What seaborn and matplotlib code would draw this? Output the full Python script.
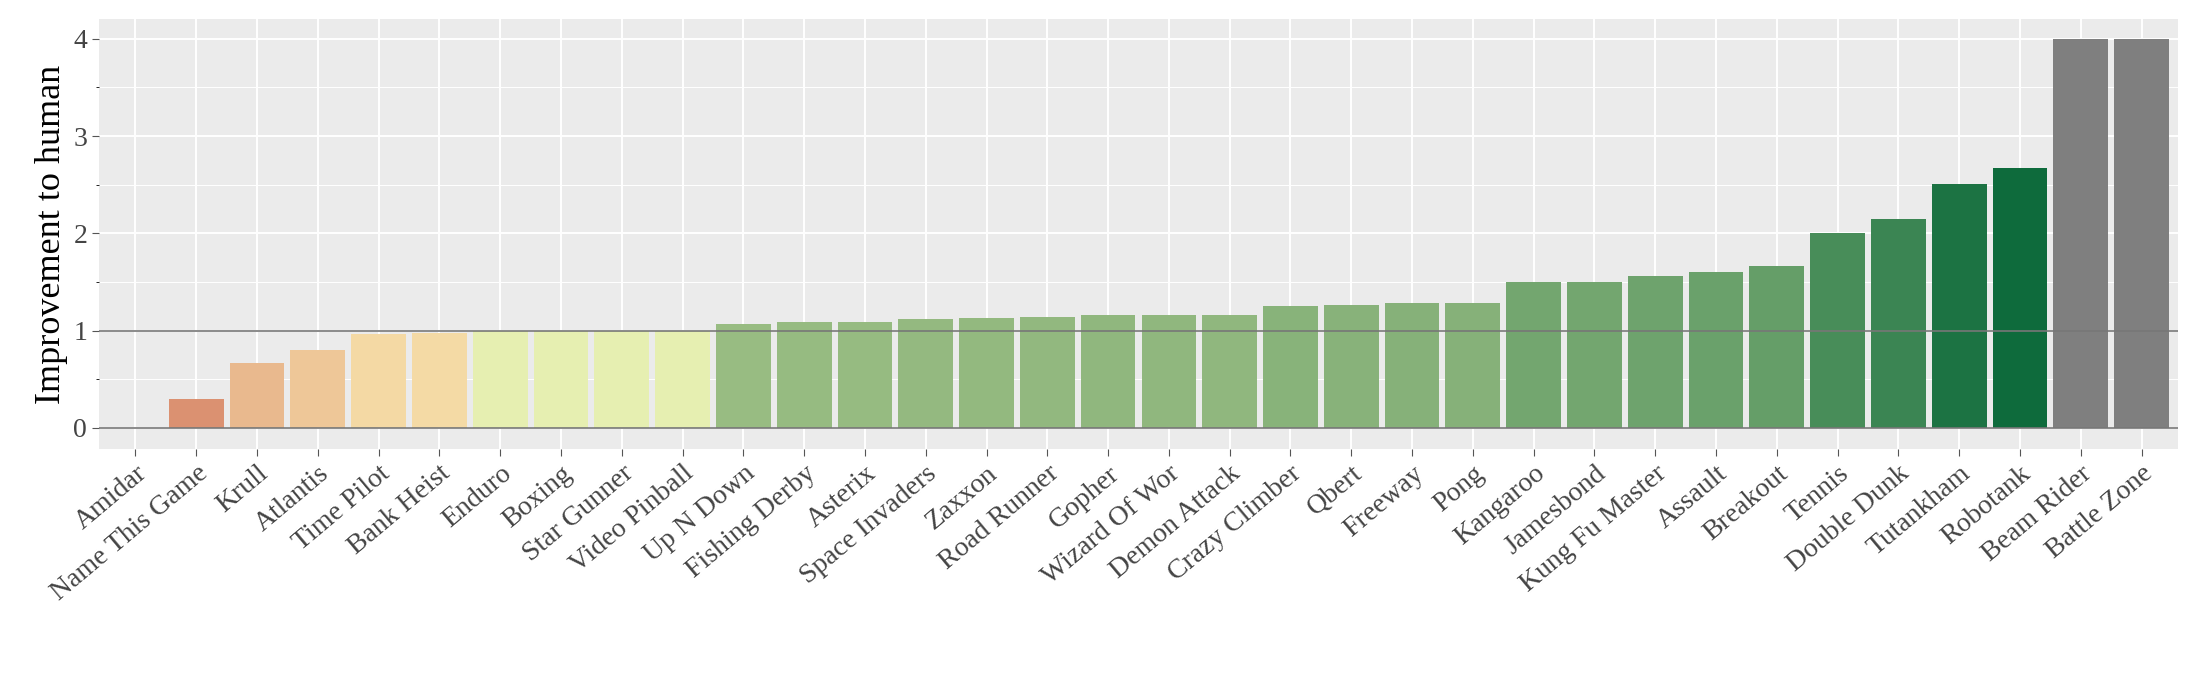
import matplotlib
matplotlib.use("Agg")
import matplotlib.pyplot as plt
import seaborn as sns
import numpy as np
import pandas as pd
from matplotlib.colors import to_rgb, to_hex
from matplotlib.ticker import MultipleLocator

games = ["Amidar","Name This Game","Krull","Atlantis","Time Pilot","Bank Heist","Enduro","Boxing",
         "Star Gunner","Video Pinball","Up N Down","Fishing Derby","Asterix","Space Invaders","Zaxxon",
         "Road Runner","Gopher","Wizard Of Wor","Demon Attack","Crazy Climber","Qbert","Freeway","Pong",
         "Kangaroo","Jamesbond","Kung Fu Master","Assault","Breakout","Tennis","Double Dunk","Tutankham",
         "Robotank","Beam Rider","Battle Zone"]
values = [0.0,0.30,0.67,0.80,0.96,0.97,1.0,1.0,1.0,1.0,1.07,1.09,1.09,1.12,1.13,1.14,1.16,1.16,1.16,
          1.25,1.26,1.28,1.28,1.50,1.50,1.56,1.60,1.66,2.00,2.15,2.51,2.67,4.0,4.0]
capped = [False]*32 + [True, True]

def mix(a, b, t):
    a, b = np.array(to_rgb(a)), np.array(to_rgb(b))
    return to_hex(a + (b - a) * min(max(t, 0), 1))

colors = []
for v, c in zip(values, capped):
    if c:
        colors.append("#7f7f7f")
    elif v < 0.999:
        colors.append(mix("#d0705a", "#f5dda7", v))
    elif v <= 1.001:
        colors.append("#e6efb1")
    else:
        colors.append(mix("#98bc82", "#0e6b3c", (v - 1.07) / (2.67 - 1.07)))

df = pd.DataFrame({"game": games, "val": values})

plt.rcParams['font.family'] = ['Liberation Serif', 'DejaVu Serif']
fig = plt.figure(figsize=(22, 6.88), dpi=100)
ax = fig.add_axes([0.045, 0.347, 0.945, 0.625])
ax.set_facecolor("#EBEBEB")
sns.barplot(data=df, x="game", y="val", hue="game", palette=colors, legend=False,
            width=0.9, ax=ax, zorder=3, saturation=1)
ax.set_ylim(-0.22, 4.2)
ax.set_xlim(-0.6, len(games) - 0.4)
ax.yaxis.set_major_locator(MultipleLocator(1))
ax.yaxis.set_minor_locator(MultipleLocator(0.5))
ax.grid(which="major", color="white", lw=1.4, zorder=0)
ax.grid(which="minor", axis="y", color="white", lw=0.7, zorder=0)
ax.set_axisbelow(True)
ax.axhline(1, color="#777777", lw=1.2, zorder=4)
ax.axhline(0, color="#777777", lw=1.2, zorder=4)
for s in ax.spines.values():
    s.set_visible(False)
ax.tick_params(axis="both", length=5, color="#555555", labelsize=20, labelcolor="#444444")
ax.set_xticks(range(len(games)))
ax.set_xticklabels(games, rotation=40, ha="right", rotation_mode="anchor")
ax.set_xlabel("")
ax.set_ylabel("Improvement to human", fontsize=26)
fig.savefig("out.png", dpi=100)
